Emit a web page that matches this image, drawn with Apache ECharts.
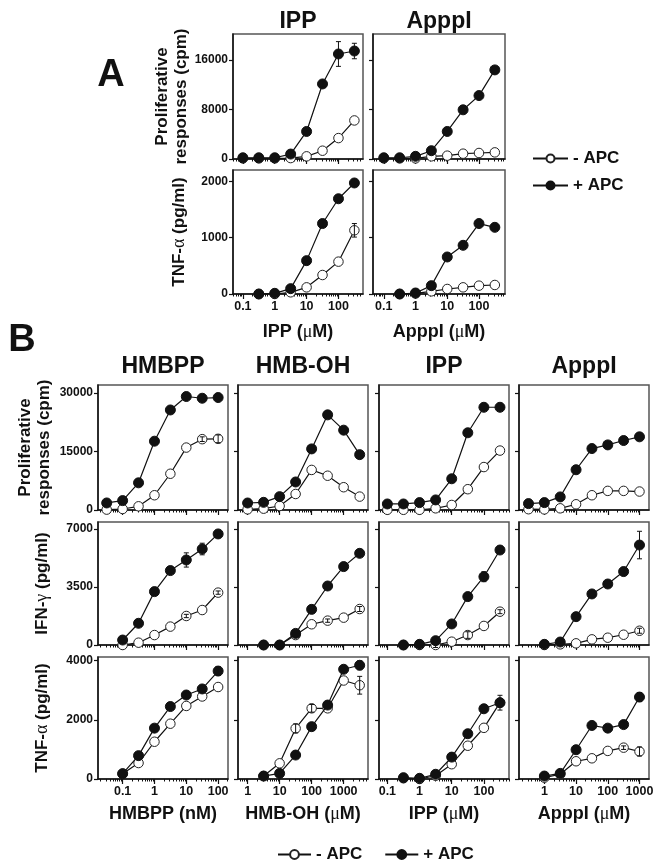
<!DOCTYPE html>
<html><head><meta charset="utf-8">
<script src="https://cdn.jsdelivr.net/npm/echarts@6/dist/echarts.min.js"></script>
<style>html,body{margin:0;padding:0;background:#fff}#c{width:660px;height:866px}</style>
</head><body><div id="c"></div>
<script>
// ================= DATA =================
// ---- Panel A (doses in µM) ----
const doseA_prolif = [0.1, 0.316, 1, 3.16, 10, 31.6, 100, 316];
const doseA_tnf    = [0.316, 1, 3.16, 10, 31.6, 100, 316];
const A_IPP_prolif_minus   = [100, 100, 100, 150, 430, 1340, 3380, 6230];
const A_IPP_prolif_plus    = [200, 200, 200, 800, 4450, 12130, 16970, 17450];
const A_IPP_prolif_plusErr = [0, 0, 0, 0, 0, 500, 2000, 1250];
const A_ApppI_prolif_minus = [100, 100, 100, 430, 540, 860, 970, 1070];
const A_ApppI_prolif_plus  = [200, 200, 430, 1340, 4450, 7950, 10250, 14400];
const A_IPP_tnf_minus      = [0, 0, 30, 118, 337, 574, 1130];
const A_IPP_tnf_minusErr   = [0, 0, 0, 0, 0, 0, 120];
const A_IPP_tnf_plus       = [0, 12, 95, 592, 1250, 1690, 1970];
const A_IPP_tnf_plusErr    = [0, 0, 0, 0, 60, 0, 0];
const A_ApppI_tnf_minus    = [0, 10, 47, 89, 118, 148, 160];
const A_ApppI_tnf_plus     = [0, 18, 148, 657, 864, 1250, 1183];
const A_ApppI_tnf_plusErr  = [0, 0, 0, 0, 0, 0, 40];

// ---- Panel B doses ----
const dose_HMBPP_prolif = [0.0316, 0.1, 0.316, 1, 3.16, 10, 31.6, 100];   // nM
const dose_HMBPP_cyt    = [0.1, 0.316, 1, 3.16, 10, 31.6, 100];
const dose_HMBOH_prolif = [1, 3.16, 10, 31.6, 100, 316, 1000, 3162];      // µM
const dose_HMBOH_cyt    = [3.16, 10, 31.6, 100, 316, 1000, 3162];
const dose_IPP_prolif   = [0.1, 0.316, 1, 3.16, 10, 31.6, 100, 316];
const dose_IPP_cyt      = [0.316, 1, 3.16, 10, 31.6, 100, 316];
const dose_ApppI_prolif = [0.316, 1, 3.16, 10, 31.6, 100, 316, 1000];
const dose_ApppI_cyt    = [1, 3.16, 10, 31.6, 100, 316, 1000];

// ---- Panel B: proliferative responses (cpm) ----
const B_HMBPP_prolif_minus    = [100, 260, 950, 3790, 9310, 16030, 18190, 18280];
const B_HMBPP_prolif_minusErr = [0, 0, 0, 0, 0, 0, 600, 1000];
const B_HMBPP_prolif_plus     = [1810, 2410, 6980, 17670, 25690, 29140, 28700, 28880];
const B_HMBOH_prolif_minus    = [170, 340, 1030, 4110, 10290, 8800, 5850, 3440];
const B_HMBOH_prolif_plus     = [1800, 1970, 3430, 7200, 15690, 24430, 20500, 14220];
const B_IPP_prolif_minus      = [50, 50, 50, 430, 1290, 5340, 11030, 15260];
const B_IPP_prolif_plus       = [1550, 1550, 1900, 2590, 8020, 19830, 26380, 26380];
const B_ApppI_prolif_minus    = [200, 150, 430, 1470, 3790, 4910, 4910, 4740];
const B_ApppI_prolif_plus     = [1640, 1900, 3360, 10340, 15780, 16720, 17840, 18790];

// ---- Panel B: IFN-γ (pg/ml) ----
const B_HMBPP_ifn_minus    = [0, 140, 600, 1110, 1750, 2110, 3160];
const B_HMBPP_ifn_minusErr = [0, 0, 0, 0, 100, 0, 100];
const B_HMBPP_ifn_plus     = [300, 1310, 3220, 4490, 5130, 5790, 6700];
const B_HMBPP_ifn_plusErr  = [0, 0, 0, 0, 430, 350, 0];
const B_HMBOH_ifn_minus    = [0, 0, 600, 1250, 1470, 1650, 2170];
const B_HMBOH_ifn_minusErr = [0, 0, 0, 0, 100, 0, 150];
const B_HMBOH_ifn_plus     = [0, 0, 700, 2150, 3560, 4730, 5530];
const B_HMBOH_ifn_plusErr  = [0, 0, 0, 0, 0, 0, 200];
const B_IPP_ifn_minus      = [0, 0, 0, 200, 600, 1150, 2010];
const B_IPP_ifn_minusErr   = [0, 0, 150, 0, 200, 0, 120];
const B_IPP_ifn_plus       = [0, 40, 260, 1270, 2920, 4120, 5730];
const B_IPP_ifn_plusErr    = [0, 0, 0, 0, 0, 300, 0];
const B_ApppI_ifn_minus    = [0, 40, 100, 340, 440, 620, 860];
const B_ApppI_ifn_minusErr = [0, 0, 0, 0, 0, 0, 150];
const B_ApppI_ifn_plus     = [40, 180, 1710, 3080, 3680, 4430, 6030];
const B_ApppI_ifn_plusErr  = [0, 0, 0, 0, 0, 250, 830];

// ---- Panel B: TNF-α (pg/ml) ----
const B_HMBPP_tnf_minus    = [180, 540, 1260, 1870, 2470, 2790, 3110];
const B_HMBPP_tnf_plus     = [180, 790, 1720, 2450, 2840, 3045, 3650];
const B_HMBPP_tnf_plusErr  = [0, 0, 0, 0, 100, 0, 150];
const B_HMBOH_tnf_minus    = [100, 530, 1710, 2390, 2390, 3330, 3170];
const B_HMBOH_tnf_minusErr = [0, 0, 150, 130, 0, 0, 300];
const B_HMBOH_tnf_plus     = [100, 190, 810, 1770, 2500, 3710, 3845];
const B_HMBOH_tnf_plusErr  = [0, 0, 0, 0, 0, 0, 150];
const B_IPP_tnf_minus      = [25, 0, 110, 500, 1125, 1730, 2580];
const B_IPP_tnf_plus       = [45, 23, 160, 740, 1530, 2375, 2580];
const B_IPP_tnf_plusErr    = [0, 0, 0, 0, 130, 0, 250];
const B_ApppI_tnf_minus    = [45, 160, 600, 700, 950, 1060, 930];
const B_ApppI_tnf_minusErr = [0, 0, 0, 0, 0, 60, 150];
const B_ApppI_tnf_plus     = [100, 190, 990, 1810, 1720, 1840, 2770];
const B_ApppI_tnf_plusErr  = [0, 0, 0, 0, 0, 100, 150];

// ---- Tick labels ----
const xTicks_A      = [0.1, 1, 10, 100];
const xTicks_HMBPP  = [0.1, 1, 10, 100];
const xTicks_HMBOH  = [1, 10, 100, 1000];
const xTicks_IPP    = [0.1, 1, 10, 100];
const xTicks_ApppI  = [1, 10, 100, 1000];
const yTicks_A_prolif = [0, 8000, 16000];
const yTicks_A_tnf    = [0, 1000, 2000];
const yTicks_B_prolif = [0, 15000, 30000];
const yTicks_B_ifn    = [0, 3500, 7000];
const yTicks_B_tnf    = [0, 2000, 4000];

// ================= BUILD =================
const FF = '"Liberation Sans", Arial, Helvetica, sans-serif';
const INK = '#111';
const grids = [], xAxes = [], yAxes = [], series = [];
const L = Math.log10;

function minorTicks(lo, hi) {
  const out = [];
  for (let d = Math.floor(lo); d <= Math.ceil(hi); d++) {
    for (let k = 2; k <= 9; k++) {
      const v = L(k) + d;
      if (v >= lo && v <= hi) out.push(v);
    }
  }
  return out;
}
function fmtX(v) {
  const x = Math.pow(10, v);
  return x < 1 ? String(+x.toFixed(2)) : String(Math.round(x));
}
function fmtY(v) { return String(Math.round(v)); }
function errRender(params, api) {
  const x = api.value(0), lo = api.value(1), hi = api.value(2);
  const p1 = api.coord([x, hi]), p2 = api.coord([x, lo]);
  const w = 2.5, st = { stroke: INK, lineWidth: 1 };
  return { type: 'group', children: [
    { type: 'line', shape: { x1: p1[0], y1: p1[1], x2: p2[0], y2: p2[1] }, style: st },
    { type: 'line', shape: { x1: p1[0] - w, y1: p1[1], x2: p1[0] + w, y2: p1[1] }, style: st },
    { type: 'line', shape: { x1: p2[0] - w, y1: p2[1], x2: p2[0] + w, y2: p2[1] }, style: st }
  ]};
}
const nameRich = { g: { fontFamily: '"Liberation Serif", "DejaVu Serif", serif', fontWeight: 'normal', fontSize: 18, color: INK } };

function addPanel(p) {
  const gi = grids.length;
  grids.push({ left: p.left, top: p.top, width: p.width, height: p.height, show: true,
    borderColor: '#555', borderWidth: 1.5, backgroundColor: 'transparent', outerBoundsMode: 'none' });
  const xi = xAxes.length;
  const majors = p.xTicks.map(L);
  xAxes.push({
    type: 'value', gridIndex: gi, position: 'bottom', min: p.xMin, max: p.xMax,
    axisLine: { show: true, onZero: false, lineStyle: { color: INK, width: 1.5 } },
    axisTick: { show: true, inside: false, length: 5, customValues: majors, lineStyle: { color: INK, width: 1.2 } },
    axisLabel: { show: !!p.showX, customValues: majors, formatter: fmtX, margin: 6,
      fontSize: 12.5, fontWeight: 'bold', color: INK, fontFamily: FF },
    splitLine: { show: false },
    name: p.showX ? p.xName : '', nameLocation: 'middle', nameGap: p.xNameGap || 27,
    nameTextStyle: { fontSize: 18, fontWeight: 'bold', color: INK, fontFamily: FF, rich: nameRich }
  });
  xAxes.push({
    type: 'value', gridIndex: gi, position: 'bottom', min: p.xMin, max: p.xMax,
    axisLine: { show: false, onZero: false },
    axisTick: { show: true, inside: false, length: 2.5, customValues: minorTicks(p.xMin, p.xMax), lineStyle: { color: INK, width: 1 } },
    axisLabel: { show: false }, splitLine: { show: false }
  });
  const yi = yAxes.length;
  yAxes.push({
    type: 'value', gridIndex: gi, position: 'left', min: 0, max: p.yMax,
    axisLine: { show: true, onZero: false, lineStyle: { color: INK, width: 1.5 } },
    axisTick: { show: true, inside: false, length: 4, customValues: p.yTicks, lineStyle: { color: INK, width: 1.2 } },
    axisLabel: { show: !!p.showY, customValues: p.yTicks, formatter: fmtY, margin: 5, fontSize: 12, fontWeight: 'bold', color: INK, fontFamily: FF },
    splitLine: { show: false },
    name: p.showY ? p.yName : '', nameLocation: 'middle', nameGap: p.yNameGap || 44,
    nameTextStyle: { fontSize: 17, lineHeight: 19, fontWeight: 'bold', color: INK, fontFamily: FF, rich: nameRich }
  });
  const mk = (vals) => p.doses.map((d, i) => [L(d), vals[i]]);
  series.push({
    type: 'line', name: '- APC', xAxisIndex: xi, yAxisIndex: yi, data: mk(p.minus),
    symbol: 'circle', symbolSize: 9.5, showAllSymbol: true, z: 3,
    lineStyle: { color: INK, width: 1.2 }, itemStyle: { color: '#fff', borderColor: '#222', borderWidth: 1 },
    emphasis: { disabled: true }
  });
  series.push({
    type: 'line', name: '+ APC', xAxisIndex: xi, yAxisIndex: yi, data: mk(p.plus),
    symbol: 'circle', symbolSize: 10, showAllSymbol: true, z: 4,
    lineStyle: { color: INK, width: 1.2 }, itemStyle: { color: INK, borderColor: INK, borderWidth: 1 },
    emphasis: { disabled: true }
  });
  [[p.minus, p.minusErr], [p.plus, p.plusErr]].forEach(([v, e]) => {
    if (!e) return;
    const d = [];
    p.doses.forEach((x, i) => { if (e[i] > 0) d.push([L(x), v[i] - e[i], v[i] + e[i]]); });
    if (d.length) series.push({ type: 'custom', xAxisIndex: xi, yAxisIndex: yi, data: d, renderItem: errRender, z: 5, silent: true });
  });
}

// ---- Panel A layout ----
const A_cols = [{ left: 233, width: 130, xMin: -1.31, xMax: 2.77, ticks: xTicks_A, name: 'IPP ({g|μ}M)' },
                { left: 373, width: 132, xMin: -1.34, xMax: 2.82, ticks: xTicks_A, name: 'ApppI ({g|μ}M)' }];
const A_prolif = [[A_IPP_prolif_minus, null, A_IPP_prolif_plus, A_IPP_prolif_plusErr],
                  [A_ApppI_prolif_minus, null, A_ApppI_prolif_plus, null]];
const A_tnf = [[A_IPP_tnf_minus, A_IPP_tnf_minusErr, A_IPP_tnf_plus, A_IPP_tnf_plusErr],
               [A_ApppI_tnf_minus, null, A_ApppI_tnf_plus, A_ApppI_tnf_plusErr]];
A_cols.forEach((c, j) => {
  addPanel({ left: c.left, width: c.width, top: 34, height: 125, xMin: c.xMin, xMax: c.xMax, xTicks: c.ticks,
    yMax: 20200, yTicks: yTicks_A_prolif, showY: j === 0, yName: 'Proliferative\nresponses (cpm)', yNameGap: 40,
    doses: doseA_prolif, minus: A_prolif[j][0], minusErr: A_prolif[j][1], plus: A_prolif[j][2], plusErr: A_prolif[j][3] });
  addPanel({ left: c.left, width: c.width, top: 170, height: 124, xMin: c.xMin, xMax: c.xMax, xTicks: c.ticks,
    yMax: 2200, yTicks: yTicks_A_tnf, showY: j === 0, yName: 'TNF-{g|α} (pg/ml)', yNameGap: 44,
    showX: true, xName: c.name, xNameGap: 29,
    doses: doseA_tnf, minus: A_tnf[j][0], minusErr: A_tnf[j][1], plus: A_tnf[j][2], plusErr: A_tnf[j][3] });
});

// ---- Panel B layout ----
const B_cols = [
  { left: 98,  xMin: -1.774, xMax: 2.31, ticks: xTicks_HMBPP, name: 'HMBPP (nM)', dp: dose_HMBPP_prolif, dc: dose_HMBPP_cyt,
    rows: [[B_HMBPP_prolif_minus, B_HMBPP_prolif_minusErr, B_HMBPP_prolif_plus, null],
           [B_HMBPP_ifn_minus, B_HMBPP_ifn_minusErr, B_HMBPP_ifn_plus, B_HMBPP_ifn_plusErr],
           [B_HMBPP_tnf_minus, null, B_HMBPP_tnf_plus, B_HMBPP_tnf_plusErr]] },
  { left: 238, xMin: -0.3, xMax: 3.76, ticks: xTicks_HMBOH, name: 'HMB-OH ({g|μ}M)', dp: dose_HMBOH_prolif, dc: dose_HMBOH_cyt,
    rows: [[B_HMBOH_prolif_minus, null, B_HMBOH_prolif_plus, null],
           [B_HMBOH_ifn_minus, B_HMBOH_ifn_minusErr, B_HMBOH_ifn_plus, B_HMBOH_ifn_plusErr],
           [B_HMBOH_tnf_minus, B_HMBOH_tnf_minusErr, B_HMBOH_tnf_plus, B_HMBOH_tnf_plusErr]] },
  { left: 379, xMin: -1.26, xMax: 2.78, ticks: xTicks_IPP, name: 'IPP ({g|μ}M)', dp: dose_IPP_prolif, dc: dose_IPP_cyt,
    rows: [[B_IPP_prolif_minus, null, B_IPP_prolif_plus, null],
           [B_IPP_ifn_minus, B_IPP_ifn_minusErr, B_IPP_ifn_plus, B_IPP_ifn_plusErr],
           [B_IPP_tnf_minus, null, B_IPP_tnf_plus, B_IPP_tnf_plusErr]] },
  { left: 519, xMin: -0.8, xMax: 3.30, ticks: xTicks_ApppI, name: 'ApppI ({g|μ}M)', dp: dose_ApppI_prolif, dc: dose_ApppI_cyt,
    rows: [[B_ApppI_prolif_minus, null, B_ApppI_prolif_plus, null],
           [B_ApppI_ifn_minus, B_ApppI_ifn_minusErr, B_ApppI_ifn_plus, B_ApppI_ifn_plusErr],
           [B_ApppI_tnf_minus, B_ApppI_tnf_minusErr, B_ApppI_tnf_plus, B_ApppI_tnf_plusErr]] }
];
const B_rows = [
  { top: 385, height: 125, yMax: 32100, ticks: yTicks_B_prolif, name: 'Proliferative\nresponses (cpm)', gap: 44 },
  { top: 522, height: 123, yMax: 7420,  ticks: yTicks_B_ifn,    name: 'IFN-{g|γ} (pg/ml)', gap: 46 },
  { top: 657, height: 122, yMax: 4125,  ticks: yTicks_B_tnf,    name: 'TNF-{g|α} (pg/ml)', gap: 46 }
];
B_cols.forEach((c, j) => {
  B_rows.forEach((r, k) => {
    const d = c.rows[k];
    addPanel({ left: c.left, width: 130, top: r.top, height: r.height, xMin: c.xMin, xMax: c.xMax, xTicks: c.ticks,
      yMax: r.yMax, yTicks: r.ticks, showY: j === 0, yName: r.name, yNameGap: r.gap,
      showX: k === 2, xName: c.name, xNameGap: 26,
      doses: k === 0 ? c.dp : c.dc, minus: d[0], minusErr: d[1], plus: d[2], plusErr: d[3] });
  });
});

function txt(text, x, y, size) {
  return { type: 'text', x: x, y: y, silent: true,
    style: { text: text, fill: INK, font: 'bold ' + size + 'px ' + FF, textAlign: 'center', textVerticalAlign: 'middle', align: 'center', verticalAlign: 'middle' } };
}
const graphics = [
  txt('A', 111, 76, 38), txt('B', 22, 341, 38),
  txt('IPP', 298, 22, 23), txt('ApppI', 439, 22, 23),
  txt('HMBPP', 163, 367, 23), txt('HMB-OH', 303, 367, 23), txt('IPP', 444, 367, 23), txt('ApppI', 584, 367, 23)
];

const chart = echarts.init(document.getElementById('c'), null, { renderer: 'canvas' });
chart.setOption({
  animation: false,
  backgroundColor: '#fff',
  grid: grids, xAxis: xAxes, yAxis: yAxes, series: series,
  graphic: graphics,
  legend: [
    { data: ['- APC', '+ APC'], orient: 'vertical', left: 527, top: 145, itemWidth: 35, itemHeight: 10, itemGap: 10,
      textStyle: { fontSize: 17, fontWeight: 'bold', color: INK, fontFamily: FF }, selectedMode: false },
    { data: ['- APC', '+ APC'], orient: 'horizontal', left: 272, top: 841, itemWidth: 33, itemHeight: 11, itemGap: 22,
      textStyle: { fontSize: 17, fontWeight: 'bold', color: INK, fontFamily: FF }, selectedMode: false }
  ]
});
</script></body></html>
